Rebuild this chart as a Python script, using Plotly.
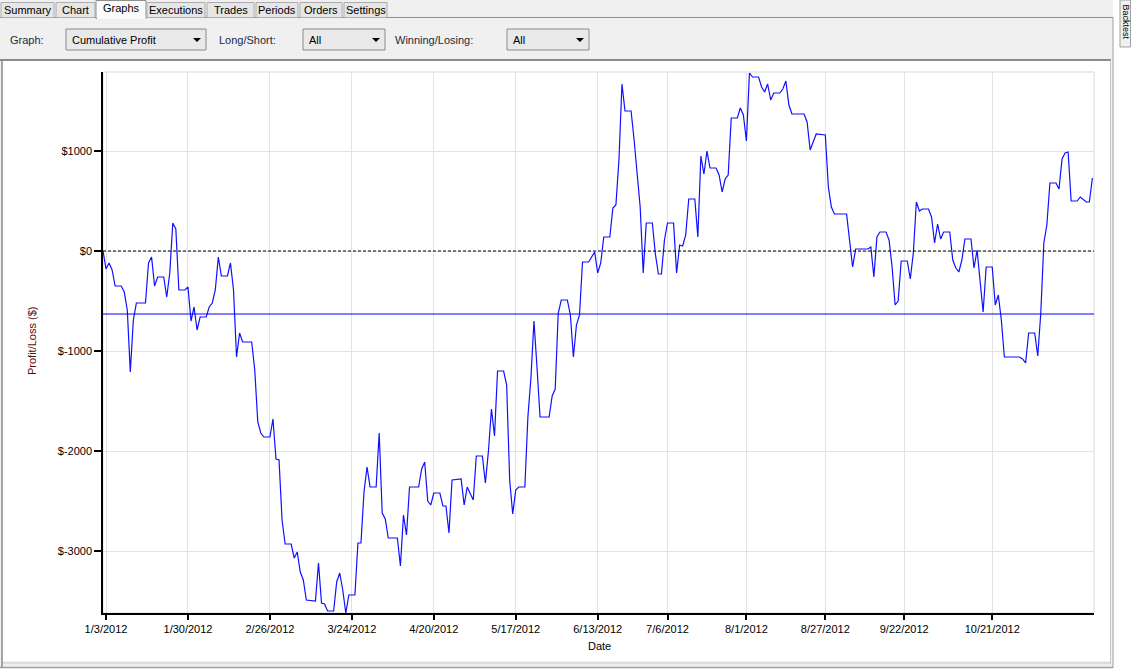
import plotly.graph_objects as go

# ---------------- data ----------------
dates = [
    '2012-01-02', '2012-01-03', '2012-01-04', '2012-01-05', '2012-01-06', '2012-01-08', '2012-01-09', '2012-01-10',
    '2012-01-11', '2012-01-12', '2012-01-13', '2012-01-16', '2012-01-17', '2012-01-18', '2012-01-19', '2012-01-20',
    '2012-01-22', '2012-01-23', '2012-01-24', '2012-01-25', '2012-01-26', '2012-01-27', '2012-01-29', '2012-01-30',
    '2012-01-31', '2012-02-01', '2012-02-02', '2012-02-03', '2012-02-05', '2012-02-06', '2012-02-07', '2012-02-08',
    '2012-02-09', '2012-02-10', '2012-02-12', '2012-02-13', '2012-02-14', '2012-02-15', '2012-02-16', '2012-02-17',
    '2012-02-20', '2012-02-21', '2012-02-22', '2012-02-23', '2012-02-24', '2012-02-26', '2012-02-27', '2012-02-28',
    '2012-02-29', '2012-03-01', '2012-03-02', '2012-03-04', '2012-03-05', '2012-03-06', '2012-03-07', '2012-03-08',
    '2012-03-09', '2012-03-12', '2012-03-13', '2012-03-14', '2012-03-15', '2012-03-16', '2012-03-18', '2012-03-19',
    '2012-03-20', '2012-03-21', '2012-03-22', '2012-03-23', '2012-03-25', '2012-03-26', '2012-03-27', '2012-03-28',
    '2012-03-29', '2012-03-30', '2012-04-01', '2012-04-02', '2012-04-03', '2012-04-04', '2012-04-05', '2012-04-08',
    '2012-04-09', '2012-04-10', '2012-04-11', '2012-04-12', '2012-04-15', '2012-04-16', '2012-04-17', '2012-04-18',
    '2012-04-19', '2012-04-20', '2012-04-22', '2012-04-23', '2012-04-24', '2012-04-25', '2012-04-26', '2012-04-29',
    '2012-04-30', '2012-05-01', '2012-05-03', '2012-05-04', '2012-05-06', '2012-05-07', '2012-05-08', '2012-05-09',
    '2012-05-10', '2012-05-11', '2012-05-13', '2012-05-14', '2012-05-15', '2012-05-16', '2012-05-17', '2012-05-18',
    '2012-05-20', '2012-05-21', '2012-05-22', '2012-05-23', '2012-05-24', '2012-05-25', '2012-05-28', '2012-05-29',
    '2012-05-30', '2012-05-31', '2012-06-01', '2012-06-03', '2012-06-04', '2012-06-05', '2012-06-06', '2012-06-07',
    '2012-06-08', '2012-06-10', '2012-06-12', '2012-06-13', '2012-06-14', '2012-06-15', '2012-06-17', '2012-06-18',
    '2012-06-19', '2012-06-20', '2012-06-21', '2012-06-22', '2012-06-24', '2012-06-25', '2012-06-27', '2012-06-28',
    '2012-06-29', '2012-07-01', '2012-07-02', '2012-07-03', '2012-07-04', '2012-07-05', '2012-07-06', '2012-07-08',
    '2012-07-09', '2012-07-10', '2012-07-11', '2012-07-12', '2012-07-13', '2012-07-15', '2012-07-16', '2012-07-17',
    '2012-07-18', '2012-07-19', '2012-07-20', '2012-07-22', '2012-07-23', '2012-07-24', '2012-07-25', '2012-07-26',
    '2012-07-27', '2012-07-29', '2012-07-30', '2012-07-31', '2012-08-01', '2012-08-02', '2012-08-03', '2012-08-05',
    '2012-08-06', '2012-08-07', '2012-08-08', '2012-08-09', '2012-08-10', '2012-08-12', '2012-08-13', '2012-08-14',
    '2012-08-15', '2012-08-16', '2012-08-20', '2012-08-21', '2012-08-22', '2012-08-24', '2012-08-27', '2012-08-28',
    '2012-08-29', '2012-08-30', '2012-09-03', '2012-09-04', '2012-09-05', '2012-09-06', '2012-09-10', '2012-09-11',
    '2012-09-12', '2012-09-13', '2012-09-14', '2012-09-16', '2012-09-17', '2012-09-18', '2012-09-19', '2012-09-20',
    '2012-09-21', '2012-09-23', '2012-09-24', '2012-09-25', '2012-09-26', '2012-09-27', '2012-09-28', '2012-09-30',
    '2012-10-01', '2012-10-02', '2012-10-03', '2012-10-04', '2012-10-05', '2012-10-07', '2012-10-08', '2012-10-09',
    '2012-10-10', '2012-10-11', '2012-10-12', '2012-10-14', '2012-10-15', '2012-10-16', '2012-10-17', '2012-10-18',
    '2012-10-19', '2012-10-21', '2012-10-22', '2012-10-23', '2012-10-24', '2012-10-25', '2012-10-30', '2012-10-31',
    '2012-11-01', '2012-11-02', '2012-11-04', '2012-11-05', '2012-11-06', '2012-11-07', '2012-11-08', '2012-11-09',
    '2012-11-11', '2012-11-12', '2012-11-13', '2012-11-14', '2012-11-15', '2012-11-16', '2012-11-18', '2012-11-19',
    '2012-11-21', '2012-11-22', '2012-11-23',
]
profit = [
    0, -180, -120, -190, -350, -350, -410, -590,
    -1210, -690, -520, -520, -120, -60, -350, -260,
    -260, -460, -220, 280, 220, -390, -390, -360,
    -700, -560, -790, -660, -660, -560, -520, -390,
    -60, -250, -250, -120, -390, -1060, -820, -910,
    -910, -1190, -1710, -1820, -1860, -1860, -1680, -2080,
    -2090, -2690, -2930, -2930, -3070, -3010, -3210, -3290,
    -3490, -3500, -3120, -3520, -3530, -3600, -3600, -3310,
    -3220, -3390, -3620, -3440, -3440, -2920, -2920, -2410,
    -2160, -2360, -2360, -1820, -2620, -2680, -2870, -2870,
    -3150, -2640, -2840, -2360, -2360, -2180, -2110, -2500,
    -2540, -2420, -2420, -2550, -2550, -2820, -2290, -2280,
    -2540, -2360, -2490, -2050, -2050, -2320, -2000, -1580,
    -1850, -1200, -1200, -1340, -2290, -2630, -2390, -2360,
    -2360, -1660, -1270, -700, -1160, -1660, -1660, -1450,
    -1380, -620, -490, -490, -640, -1060, -740, -640,
    -110, -110, -10, -220, -120, 140, 140, 430,
    460, 910, 1670, 1400, 1400, 1110, 440, -220,
    280, 280, -30, -230, -230, 110, 280, 280,
    -220, 60, 50, 160, 520, 520, 140, 950,
    770, 1000, 830, 830, 760, 590, 720, 760,
    1330, 1330, 1430, 1360, 1100, 1780, 1740, 1740,
    1640, 1590, 1670, 1510, 1580, 1580, 1620, 1700,
    1460, 1370, 1370, 1290, 1010, 1170, 1160, 640,
    440, 370, 370, 110, -160, 20, 20, 40,
    -260, 140, 190, 190, 110, -160, -540, -500,
    -100, -100, -280, -20, 490, 400, 420, 420,
    340, 80, 270, 120, 190, 190, -90, -170,
    -210, -90, 120, 120, -170, 10, -290, -610,
    -160, -160, -540, -440, -690, -1060, -1060, -1080,
    -1120, -820, -820, -1050, -620, 80, 260, 680,
    680, 620, 920, 980, 990, 500, 500, 540,
    490, 490, 730,
]
average_line = -630          # solid blue horizontal reference
zero_line = 0                # dashed black break-even line

x_tick_dates = ['2012-01-03', '2012-01-30', '2012-02-26', '2012-03-24', '2012-04-20', '2012-05-17',
                '2012-06-13', '2012-07-06', '2012-08-01', '2012-08-27', '2012-09-22', '2012-10-21']
x_tick_labels = ['1/3/2012', '1/30/2012', '2/26/2012', '3/24/2012', '4/20/2012', '5/17/2012',
                 '6/13/2012', '7/6/2012', '8/1/2012', '8/27/2012', '9/22/2012', '10/21/2012']
y_tick_vals = [1000, 0, -1000, -2000, -3000]
y_tick_labels = ['$1000', '$0', '$-1000', '$-2000', '$-3000']

tab_names = ['Summary', 'Chart', 'Graphs', 'Executions', 'Trades', 'Periods', 'Orders', 'Settings']
selected_tab = 'Graphs'
control_labels = ['Graph:', 'Long/Short:', 'Winning/Losing:']
control_values = ['Cumulative Profit', 'All', 'All']

# ---------------- geometry (pixels) ----------------
FW, FH = 1131, 671
L, T, R, B = 103, 72, 37, 58
PW, PH = FW - L - R, FH - T - B


def fx(px):
    return (px - L) / PW


def fy(py):
    return 1 - (py - T) / PH


FONT = 'Liberation Sans, Arial, sans-serif'

shapes = []
annotations = []


def rect(x0, y0, x1, y1, fill, line=None, lw=1, layer='below'):
    shapes.append(dict(type='rect', xref='paper', yref='paper',
                       x0=fx(x0), x1=fx(x1), y0=fy(y1), y1=fy(y0),
                       fillcolor=fill, layer=layer,
                       line=dict(color=line if line else fill, width=lw if line else 0)))


def hline(x0, x1, y, color, lw=1, layer='below'):
    shapes.append(dict(type='line', xref='paper', yref='paper', x0=fx(x0), x1=fx(x1),
                       y0=fy(y), y1=fy(y), line=dict(color=color, width=lw), layer=layer))


def vline(x, y0, y1, color, lw=1, layer='below'):
    shapes.append(dict(type='line', xref='paper', yref='paper', x0=fx(x), x1=fx(x),
                       y0=fy(y0), y1=fy(y1), line=dict(color=color, width=lw), layer=layer))


def text(px, py, s, size=11, color='#000000', anchor='left', angle=0):
    annotations.append(dict(x=fx(px), y=fy(py), xref='paper', yref='paper', text=s,
                            showarrow=False, xanchor=anchor, yanchor='middle', textangle=angle,
                            font=dict(family=FONT, size=size, color=color)))


# window background
rect(0, 0, 1113, 668, '#f0f0f0')
# tab strip
tab_edges = [0, 55, 96, 146, 206, 255, 299, 343, 388]
hline(0, 1113, 17.5, '#8e8f8f')
for i, name in enumerate(tab_names):
    x0, x1 = tab_edges[i] + 1, tab_edges[i + 1] - 1
    if name == selected_tab:
        rect(x0 - 1, 0.5, x1 + 1, 18.5, '#fbfbfb', '#8e8f8f')
        rect(x0, 17, x1 + 0.5, 19, '#fbfbfb')
        text((x0 + x1) / 2, 8.5, name, 11, '#000000', 'center')
    else:
        rect(x0, 2.5, x1, 17.5, '#e6e6e6', '#acacac')
        text((x0 + x1) / 2, 10, name, 11, '#000000', 'center')
vline(1113, 17.5, 668, '#a0a0a0')

# controls
label_x = [8, 217, 393]
box_x = [(66, 206), (303, 385), (507, 589)]
for lab, lx, val, (bx0, bx1) in zip(control_labels, label_x, control_values, box_x):
    text(lx, 40, lab, 11, '#1e2a3c', 'left')
    rect(bx0, 29, bx1, 50, '#e9e9e9', '#8a8a8a')
    text(bx0 + 4, 40, val, 11, '#000000', 'left')
    ax = bx1 - 9
    shapes.append(dict(type='path', xref='paper', yref='paper', layer='above',
                       path=f'M {fx(ax-4)} {fy(38)} L {fx(ax+4)} {fy(38)} L {fx(ax)} {fy(42)} Z',
                       fillcolor='#000000', line=dict(width=0)))

# chart panel
hline(0, 1111, 60, '#6a6a6a', 1.5)
rect(3, 61, 1110, 661, '#ffffff')
vline(2, 60, 668, '#8a8a8a', 1.5)
vline(1110.5, 60, 664, '#c8c8c8')
hline(3, 1110, 663, '#dcdcdc', 2)
hline(0, 1113, 667.5, '#a0a0a0', 1.5)

# side "Backtest" tab
rect(1120, 0, 1130.5, 47, '#f0f0f0', '#a0a0a0')
text(1125.5, 22, 'Backtest', 9, '#000000', 'center', 90)

# plot-area border (top/right light grey)
shapes.append(dict(type='rect', xref='paper', yref='paper', x0=0, x1=1, y0=0, y1=1,
                   line=dict(color='#d9d9d9', width=1), layer='below'))

# reference lines
shapes.append(dict(type='line', xref='paper', yref='y', x0=0, x1=1, y0=zero_line, y1=zero_line,
                   line=dict(color='#000000', width=1, dash='3px,2px'), layer='above'))
shapes.append(dict(type='line', xref='paper', yref='y', x0=0, x1=1, y0=average_line, y1=average_line,
                   line=dict(color='#0000ff', width=1.2), layer='above'))

# axis titles
text(32, 341, 'Profit/Loss ($)', 11, '#5c0a0a', 'center', -90)
text(599, 646, 'Date', 11, '#000000', 'center')

fig = go.Figure()
fig.add_trace(go.Scatter(x=dates, y=profit, mode='lines',
                         line=dict(color='#1010ff', width=1.2), hoverinfo='x+y'))

fig.update_layout(
    width=FW, height=FH,
    margin=dict(l=L, r=R, t=T, b=B, pad=0),
    paper_bgcolor='#ffffff', plot_bgcolor='rgba(0,0,0,0)',
    showlegend=False,
    shapes=shapes, annotations=annotations,
    font=dict(family=FONT, size=11, color='#000000'),
    xaxis=dict(type='date', range=['2012-01-02', '2012-11-23 12:45'],
               tickmode='array', tickvals=x_tick_dates, ticktext=x_tick_labels,
               showgrid=True, gridcolor='#e2e2e2', gridwidth=1,
               showline=True, linecolor='#000000', linewidth=1.5,
               ticks='outside', ticklen=5, tickwidth=1.5, tickcolor='#000000',
               tickfont=dict(family=FONT, size=11, color='#000000'),
               zeroline=False, fixedrange=True),
    yaxis=dict(range=[-3620, 1790], tickmode='array', tickvals=y_tick_vals, ticktext=y_tick_labels,
               showgrid=True, gridcolor='#e2e2e2', gridwidth=1,
               showline=True, linecolor='#000000', linewidth=1.5,
               ticks='outside', ticklen=7, tickwidth=1.5, tickcolor='#000000',
               tickfont=dict(family=FONT, size=11, color='#000000'),
               zeroline=False, fixedrange=True),
)

fig.write_html('out.html', config={'displayModeBar': False},
               post_script="document.body.style.margin='0px';document.body.style.overflow='hidden';")
